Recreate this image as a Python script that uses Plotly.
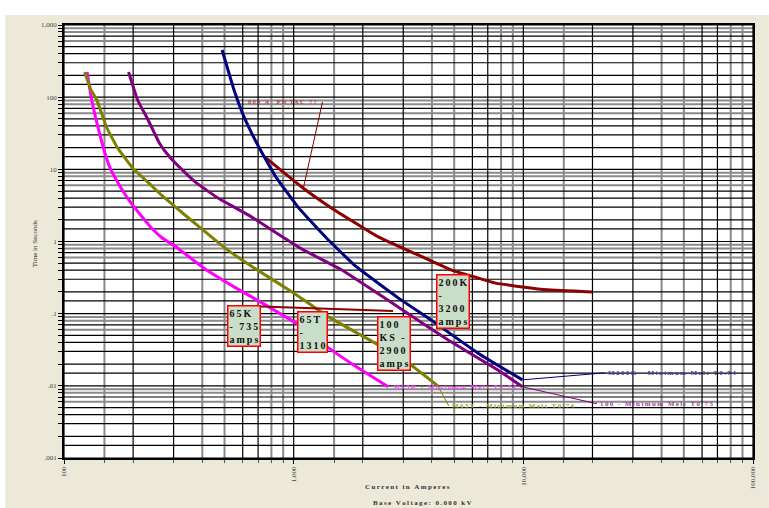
import math
import plotly.graph_objects as go

# ---------------- data (current in A, time in s) ----------------
m65k_current = [126, 132, 138, 148, 158, 175, 197, 236, 268, 312, 416, 550, 727, 1051, 1418, 1911, 2578]
m65k_time = [223, 91.4, 48.3, 20.4, 10.8, 5.89, 3.32, 1.645, 1.12, 0.815, 0.405, 0.235, 0.141, 0.070, 0.0336, 0.0177, 0.0097]

m65t_current = [123, 131, 139, 153, 171, 187, 199, 236, 268, 309, 388, 508, 692, 1000, 1418, 2333, 3241, 4243]
m65t_time = [223, 125.8, 91.4, 38.6, 19.8, 13.5, 10.46, 6.28, 4.28, 2.92, 1.59, 0.79, 0.405, 0.194, 0.0903, 0.037, 0.0195, 0.010]

m100_current = [191, 209, 229, 260, 288, 334, 377, 474, 639, 1083, 1614, 2849, 4688, 7716, 9901]
m100_time = [223, 91.4, 53.2, 23.2, 14.9, 9.2, 6.48, 3.9, 2.3, 0.79, 0.405, 0.124, 0.0434, 0.0167, 0.0097]

m200k_current = [488, 550, 608, 705, 836, 1051, 1389, 1855, 2849, 3958, 6323, 9901]
m200k_time = [451, 125.8, 53.2, 20.4, 7.85, 2.92, 1.12, 0.459, 0.1656, 0.082, 0.0286, 0.0121]

pb_current = [757, 1083, 1460, 2333, 3476, 4831, 6323, 7493, 9901, 12702, 19896]
pb_time = [14.4, 5.7, 2.92, 1.16, 0.652, 0.405, 0.313, 0.267, 0.235, 0.214, 0.200]

marker_current = [596, 2710]
marker_time = [0.128, 0.109]

x_tick_vals = [100, 1000, 10000, 100000]
x_tick_text = ["100", "1,000", "10,000", "100,000"]
y_tick_vals = [0.001, 0.01, 0.1, 1, 10, 100, 1000]
y_tick_text = [".001", ".01", ".1", "1", "10", "100", "1,000"]

box_lines = [["65K", "- 735", "amps"], ["65T", "-", "1310"], ["100", "KS -", "2900", "amps"],
             ["200K", "-", "3200", "amps"]]
curve_labels = ["800 A  PB IAC 77", "M65K - Minimum Melt T0.74", "M65T - Minimum Melt T0.74",
                "100 - Minimum Melt T0.75", "M200K - Minimum Melt T0.74"]

# ---------------- grid definition ----------------
x_decades = [100, 1000, 10000]
x_minor_black = [2, 3, 6, 7]
x_minor_gray = [1.5, 4, 5, 8, 9]
y_decades = [0.001, 0.01, 0.1, 1, 10, 100]
y_minor_black = [1.5, 2, 3, 4, 5, 7]
y_minor_gray = [6, 8, 9]

X0, X1 = 100, 100000
Y0, Y1 = 0.001, 1000


def vlines(vals):
    xs, ys = [], []
    for v in vals:
        xs += [v, v, None]
        ys += [Y0, Y1, None]
    return xs, ys


def hlines(vals):
    xs, ys = [], []
    for v in vals:
        xs += [X0, X1, None]
        ys += [v, v, None]
    return xs, ys


vx_black = [d * m for d in x_decades for m in x_minor_black] + [100, 1000, 10000, 100000]
vx_gray = [d * m for d in x_decades for m in x_minor_gray]
hy_black = [d * m for d in y_decades for m in y_minor_black] + [0.001, 0.01, 0.1, 1, 10, 100, 1000]
hy_gray = [d * m for d in y_decades for m in y_minor_gray]

fig = go.Figure()
GRAY = "#8a8a8a"
for fn, vals, col, w in [(vlines, vx_gray, GRAY, 2), (hlines, hy_gray, GRAY, 2),
                         (vlines, vx_black, "black", 1.2), (hlines, hy_black, "black", 1.2)]:
    xs, ys = fn(vals)
    fig.add_trace(go.Scatter(x=xs, y=ys, mode="lines", line=dict(color=col, width=w),
                             hoverinfo="skip", showlegend=False))

SERIF = "Liberation Serif"
MAG, OLI, PUR, NAV, RED = "#FF00FF", "#808000", "#800080", "#000080", "#8B0000"

curves = [(m65k_current, m65k_time, MAG), (m65t_current, m65t_time, OLI),
          (m100_current, m100_time, PUR), (pb_current, pb_time, RED),
          (m200k_current, m200k_time, NAV)]
for cx, cy, col in curves:
    fig.add_trace(go.Scatter(x=cx, y=cy, mode="lines", line=dict(color=col, width=3, shape="spline", smoothing=0.3),
                             showlegend=False, hoverinfo="skip"))

fig.add_trace(go.Scatter(x=marker_current, y=marker_time, mode="lines", line=dict(color=RED, width=2),
                         showlegend=False, hoverinfo="skip"))

# leader lines: from curve points to label anchors
label_anchor = {
    "pb": (1335, 85.8),
    "m65t": (4735, 0.00528),
    "m100": (20911, 0.00564),
    "m200k": (22650, 0.01514),
}
leaders = [((1105, 5.7), label_anchor["pb"], RED),
           ((m65t_current[-1], m65t_time[-1]), label_anchor["m65t"], OLI),
           ((m100_current[-1], m100_time[-1]), label_anchor["m100"], PUR),
           ((m200k_current[-1], m200k_time[-1]), label_anchor["m200k"], NAV)]
for (a, b, col) in leaders:
    fig.add_trace(go.Scatter(x=[a[0], b[0]], y=[a[1], b[1]], mode="lines", line=dict(color=col, width=1),
                             showlegend=False, hoverinfo="skip"))

L = math.log10
SP = "\u2009"


def spaced(s):
    return SP.join(list(s))


annos = []
lab_font = dict(family=SERIF, size=7)
annos.append(dict(x=L(1300), y=L(85.8), text="<b>" + spaced(curve_labels[0]) + "</b>", xanchor="right",
                  yanchor="middle", font=dict(family=SERIF, size=6.5, color="#B04040")))
annos.append(dict(x=L(m65k_current[-1] * 1.03), y=L(m65k_time[-1]), text="<b>" + spaced(curve_labels[1]) + "</b>",
                  xanchor="left", yanchor="middle", font=dict(lab_font, color="#FF44FF")))
annos.append(dict(x=L(label_anchor["m65t"][0] * 1.01), y=L(label_anchor["m65t"][1]),
                  text="<b>" + spaced(curve_labels[2]) + "</b>",
                  xanchor="left", yanchor="middle", font=dict(lab_font, color="#A0A030")))
annos.append(dict(x=L(label_anchor["m100"][0] * 1.01), y=L(label_anchor["m100"][1]),
                  text="<b>" + spaced(curve_labels[3]) + "</b>",
                  xanchor="left", yanchor="middle", font=dict(lab_font, color="#A040A0")))
annos.append(dict(x=L(label_anchor["m200k"][0] * 1.01), y=L(label_anchor["m200k"][1]),
                  text="<b>" + spaced(curve_labels[4]) + "</b>",
                  xanchor="left", yanchor="middle", font=dict(lab_font, color="#4040A0")))

# boxes (centre positions in A / s)
box_pos = [(607, 0.0678), (1203, 0.0560), (2723, 0.0388), (4952, 0.1456)]
for lines, (bx, by) in zip(box_lines, box_pos):
    t = "<br>".join(spaced(s) for s in lines)
    annos.append(dict(x=L(bx), y=L(by), text="<b>" + t + "</b>", align="left", showarrow=False,
                      xanchor="center", yanchor="middle", bgcolor="#C8DEC8", bordercolor="#FF0000",
                      borderwidth=1.5, borderpad=1, font=dict(family=SERIF, size=10, color="#111")))

# axis titles
annos.append(dict(xref="paper", yref="paper", x=0.499, y=-0.067, text="<b>" + spaced("Current in Amperes") + "</b>",
                  xanchor="center", yanchor="middle", font=dict(family=SERIF, size=7, color="#333")))
annos.append(dict(xref="paper", yref="paper", x=0.521, y=-0.105,
                  text="<b>" + spaced("Base Voltage: 0.000 kV") + "</b>",
                  xanchor="center", yanchor="middle", font=dict(family=SERIF, size=7, color="#333")))
annos.append(dict(xref="paper", yref="paper", x=-0.042, y=0.494, text="Time in Seconds", textangle=-90,
                  xanchor="center", yanchor="middle", font=dict(family=SERIF, size=7, color="#333")))
for a in annos:
    a.setdefault("showarrow", False)

# white strips at top / left of the picture
shapes = [dict(type="rect", xref="paper", yref="paper", x0=-0.2, x1=1.1, y0=1.0231, y1=1.2,
               fillcolor="white", line=dict(width=0), layer="above"),
          dict(type="rect", xref="paper", yref="paper", x0=-0.2, x1=-0.0851, y0=-0.2, y1=1.2,
               fillcolor="white", line=dict(width=0), layer="above")]

x_minor = [d * m for d in x_decades for m in x_minor_black + x_minor_gray]
y_minor = [d * m for d in y_decades for m in [2, 3, 4, 5, 6, 7, 8, 9]]

fig.update_layout(
    width=769, height=508,
    margin=dict(l=64, r=12, t=25, b=50),
    paper_bgcolor="#ECE9D8", plot_bgcolor="white",
    annotations=annos, shapes=shapes, showlegend=False,
    xaxis=dict(type="log", range=[2, 5], showgrid=False, zeroline=False, showline=True, linecolor="black",
               linewidth=1.5, mirror=True, tickvals=x_tick_vals, ticktext=x_tick_text, tickangle=-90,
               ticks="outside", ticklen=4, tickcolor="black",
               tickfont=dict(family=SERIF, size=7, color="#444"),
               minor=dict(tickvals=x_minor, ticks="outside", ticklen=3, tickcolor="#555", showgrid=False)),
    yaxis=dict(type="log", range=[-3, 3], showgrid=False, zeroline=False, showline=True, linecolor="black",
               linewidth=1.5, mirror=True, tickvals=y_tick_vals, ticktext=y_tick_text,
               ticks="outside", ticklen=4, tickcolor="black",
               tickfont=dict(family=SERIF, size=7, color="#444"),
               minor=dict(tickvals=y_minor, ticks="outside", ticklen=4, tickcolor="black", showgrid=False)),
)

fig.write_html("out.html")
